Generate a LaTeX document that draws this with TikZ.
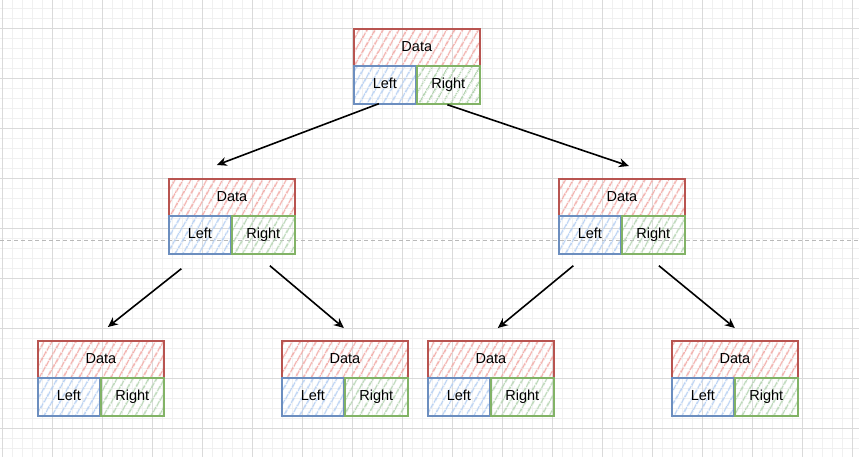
\documentclass[tikz,border=0pt]{standalone}
\usepackage{fontspec}
\setmainfont{Liberation Sans}
\usetikzlibrary{arrows.meta,patterns.meta}
\definecolor{redS}{HTML}{B85450}
\definecolor{redH}{HTML}{F2ACA8}
\definecolor{blueS}{HTML}{6C8EBF}
\definecolor{blueH}{HTML}{B8D1F3}
\definecolor{greenS}{HTML}{82B366}
\definecolor{greenH}{HTML}{B8D6B5}
\definecolor{gridminor}{HTML}{F0F0F0}
\definecolor{gridmajor}{HTML}{DADADA}
\tikzset{
  cell/.style={rectangle, inner sep=0pt, anchor=north west, line width=1.7pt,
    font=\fontsize{14.5}{16}\selectfont, text=black, text height=10.5pt, text depth=3pt},
  hatch/.style={pattern={Lines[angle=60,distance=6.5pt,line width=1.6pt]}, pattern color=#1},
  databox/.style={cell, minimum width=126pt, minimum height=37pt, draw=redS, hatch=redH},
  leftbox/.style={cell, minimum width=62pt, minimum height=38pt, draw=blueS, hatch=blueH},
  rightbox/.style={cell, minimum width=63pt, minimum height=38pt, draw=greenS, hatch=greenH},
  link/.style={line width=1.6pt, draw=black, -{Stealth[open,length=10pt,width=9pt]}},
}
\newcommand\treenode[3]{%
  \node[databox] (#1-d) at (#2,#3) {Data};
  \node[leftbox] (#1-l) at (#2,#3+37) {Left};
  \node[rightbox] (#1-r) at (#2+63,#3+37) {Right};
}
\begin{document}
\begin{tikzpicture}[x=1pt,y=-1pt]
\fill[white] (0,0) rectangle (859,457);
\useasboundingbox (0,0) rectangle (859,457);
% grid
\foreach \x in {2,12,...,852} \draw[gridminor, line width=0.8pt] (\x,0) -- (\x,457);
\foreach \y in {8,18,...,448} \draw[gridminor, line width=0.8pt] (0,\y) -- (859,\y);
\foreach \x in {2,52,...,852} \draw[gridmajor, line width=0.8pt] (\x,0) -- (\x,457);
\foreach \y in {28,78,...,428} \draw[gridmajor, line width=0.8pt] (0,\y) -- (859,\y);
% dashed guide
\draw[gray!55, line width=0.8pt, dash pattern=on 4pt off 3pt] (0,240) -- (859,240);
% nodes
\treenode{root}{353}{28}
\treenode{ml}{168}{178}
\treenode{mr}{558}{178}
\treenode{ba}{37}{340}
\treenode{bb}{281}{340}
\treenode{bc}{427}{340}
\treenode{bd}{671}{340}
% connectors
\draw[link] ([xshift=-6pt,yshift=1pt]root-l.south) -- ([xshift=-15pt,yshift=13pt]ml-d.north);
\draw[link] ([xshift=-1pt]root-r.south) -- ([xshift=7pt,yshift=12pt]mr-d.north);
\draw[link] ([xshift=-18.5pt,yshift=-14pt]ml-l.south) -- ([xshift=7pt,yshift=13pt]ba-d.north);
\draw[link] ([xshift=6.5pt,yshift=-11pt]ml-r.south) -- ([xshift=-1pt,yshift=12pt]bb-d.north);
\draw[link] ([xshift=-16.5pt,yshift=-11pt]mr-l.south) -- ([xshift=7pt,yshift=12pt]bc-d.north);
\draw[link] ([xshift=5.5pt,yshift=-11pt]mr-r.south) -- ([yshift=12pt]bd-d.north);
\end{tikzpicture}
\end{document}
